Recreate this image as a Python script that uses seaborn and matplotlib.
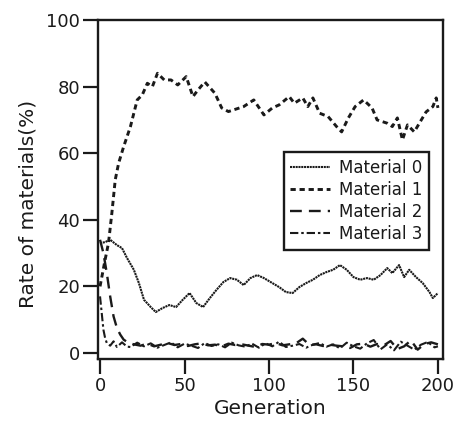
import pandas as pd
import seaborn as sns
import matplotlib.pyplot as plt

# rate of each material (%) per generation
m0_gen = [0, 3, 6, 10, 13, 16, 20, 23, 26, 30, 33, 37, 41, 45, 49, 53, 57, 61, 65, 69,
          73, 77, 81, 85, 89, 93, 97, 102, 106, 110, 114, 118, 122, 126, 130, 134, 138, 142, 146, 150,
          154, 158, 162, 166, 170, 173, 177, 180, 183, 187, 191, 195, 197, 200]
m0_val = [33, 33.3, 34, 32.4, 31.5, 28.5, 25, 21, 16, 13.8, 12.3, 13.5, 14.4, 13.8, 16, 18, 15, 13.8, 16.5, 19,
          21.3, 22.5, 22, 20.4, 22.5, 23.4, 22.5, 21, 19.8, 18.3, 18, 19.8, 21, 22, 23.4, 24.3, 25, 26.4, 25, 22.8,
          22, 22.5, 22, 23.4, 25.5, 24, 26.4, 22.8, 25, 22.8, 21, 18.3, 16.5, 18]

m1_gen = [0, 3, 5, 7, 9, 11, 14, 16, 18, 20, 22, 25, 28, 31, 34, 38, 42, 46, 51, 55,
          58, 62, 68, 72, 76, 79, 85, 91, 97, 102, 106, 112, 115, 120, 123, 126, 130, 135, 140, 143,
          147, 151, 156, 161, 164, 170, 173, 176, 179, 182, 186, 189, 193, 197, 199, 200]
m1_val = [20, 28, 33, 42, 52, 57, 62, 65, 68, 72, 76, 77.5, 81, 80, 84, 82, 82, 80.5, 83, 77,
          79, 81.4, 78, 73.6, 72.5, 73, 74, 76, 71.5, 73.6, 74.5, 77, 75, 76.6, 74, 76.6, 72, 71, 68, 66.4,
          70.6, 74, 76, 73.6, 70, 69, 68, 70.6, 64, 68.5, 66.4, 69, 72.4, 74, 76.6, 73.6]

m2_gen = [0, 2, 4, 6, 8, 10, 12, 14, 17,
          20, 24, 28, 32, 36, 40, 44, 48, 52, 56, 60, 64, 68, 72, 76, 80, 84, 88, 92, 96, 100,
          104, 108, 112, 116, 120, 124, 128, 132, 136, 140, 144, 148, 152, 156, 160, 164, 168, 172, 176, 180,
          184, 188, 192, 196, 200]
m2_val = [34, 30, 24, 17, 11, 7.5, 5.5, 4, 3,
          2.6, 2.2, 2.8, 2.0, 2.5, 3.0, 2.4, 2.7, 2.1, 2.6, 2.9, 2.3, 2.5, 2.0, 2.8, 2.4, 2.6, 2.2, 1.8, 2.7, 2.5,
          3.0, 2.3, 2.6, 2.9, 4.3, 2.4, 2.6, 2.1, 2.5, 2.2, 2.0, 1.5, 2.6, 2.8, 1.9, 2.7, 2.3, 3.6, 1.2, 2.0,
          3.8, 1.0, 2.7, 3.2, 2.6]

m3_gen = [0, 1, 2, 3, 4, 6, 8, 10, 13, 16,
          18, 22, 26, 30, 34, 38, 42, 46, 50, 54, 58, 62, 66, 70, 74, 78, 82, 86, 90, 94,
          98, 102, 106, 110, 114, 118, 122, 126, 130, 134, 138, 142, 146, 150, 154, 158, 162, 166, 170, 174,
          178, 182, 186, 190, 194, 198, 200]
m3_val = [17, 12, 7, 4.5, 3, 2.2, 3.5, 1.8, 3.2, 1.9,
          1.8, 3.1, 2.0, 2.9, 1.6, 2.4, 3.2, 1.7, 2.8, 2.2, 1.5, 3.0, 2.1, 2.6, 1.7, 3.1, 2.3, 1.9, 2.8, 1.6,
          2.9, 2.0, 3.4, 1.8, 2.2, 2.7, 1.6, 2.5, 3.0, 1.9, 2.6, 1.4, 3.1, 2.0, 1.3, 2.9, 3.9, 1.1, 2.6, 0.8,
          3.4, 2.2, 1.0, 2.5, 3.3, 1.7, 2.0]

labels = ['Material 0', 'Material 1', 'Material 2', 'Material 3']
series = [(m0_gen, m0_val), (m1_gen, m1_val), (m2_gen, m2_val), (m3_gen, m3_val)]
styles = [(0, (1, 0.35)), (0, (1.8, 1.3)), (0, (5, 3)), (0, (4, 1.4, 1.2, 1.4))]
widths = [1.5, 2.1, 1.7, 1.5]

df = pd.concat([pd.DataFrame({'Generation': g, 'Rate': v, 'Material': lab})
                for (g, v), lab in zip(series, labels)], ignore_index=True)

sns.set_style('ticks')
plt.rcParams['font.family'] = ['DejaVu Sans']
ink = '#1a1a1a'

fig, ax = plt.subplots(figsize=(4.55, 4.32), dpi=100)
fig.subplots_adjust(left=0.2154, right=0.9736, top=0.9537, bottom=0.169)

for lab, ls, lw in zip(labels, styles, widths):
    sns.lineplot(data=df[df['Material'] == lab], x='Generation', y='Rate',
                 color=ink, linestyle=ls, linewidth=lw, label=lab, ax=ax)

ax.set_xlim(-1.2, 203)
ax.set_ylim(-1.8, 100)
ax.set_xticks([0, 50, 100, 150, 200])
ax.set_yticks([0, 20, 40, 60, 80, 100])
ax.tick_params(direction='out', length=11, width=1.6, labelsize=13, colors=ink, pad=2)
for sp in ax.spines.values():
    sp.set_visible(True)
    sp.set_linewidth(1.7)
    sp.set_color(ink)

ax.set_xlabel('Generation', fontsize=14.5, color=ink, labelpad=3)
ax.set_ylabel('Rate of materials(%)', fontsize=14.5, color=ink)
ax.yaxis.set_label_coords(-0.175, 0.457)

leg = ax.legend(loc='upper right', bbox_to_anchor=(0.959, 0.611), fontsize=12,
                frameon=True, fancybox=False, framealpha=1, edgecolor=ink,
                handlelength=2.4, handletextpad=0.5, borderpad=0.4, labelspacing=0.25,
                borderaxespad=0)
leg.get_frame().set_linewidth(1.7)
for t in leg.get_texts():
    t.set_color(ink)

plt.savefig('out.png', dpi=100)
plt.close()
